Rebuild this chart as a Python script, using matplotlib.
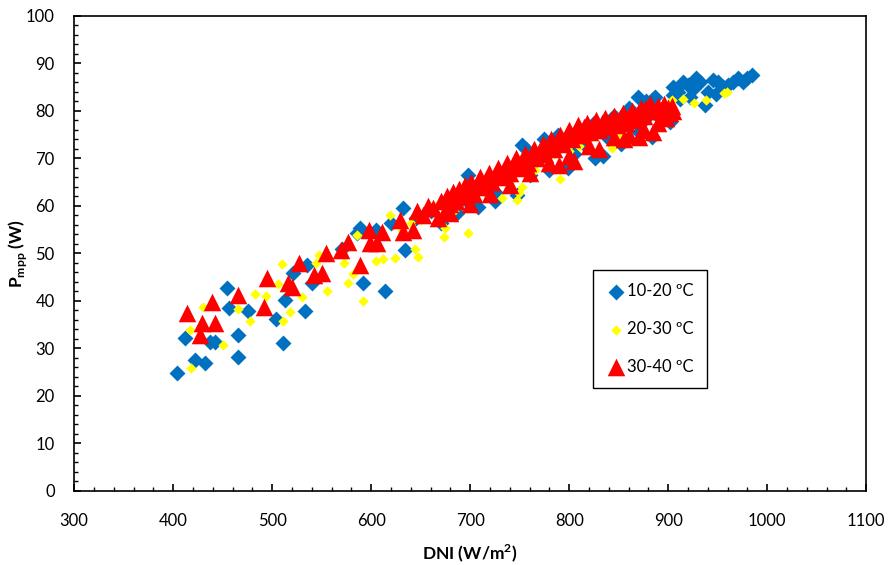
import numpy as np
import matplotlib
matplotlib.use("Agg")
import matplotlib.pyplot as plt
from matplotlib.ticker import MultipleLocator

plt.rcParams['font.family'] = ['Lato', 'DejaVu Sans']
plt.rcParams['mathtext.fontset'] = 'custom'
plt.rcParams['mathtext.rm'] = 'Lato'
plt.rcParams['mathtext.bf'] = 'Lato:bold'

# Data

dni_10_20 = [404, 412, 422, 432, 437, 442, 454, 456, 465, 465, 476, 504, 511, 513, 521, 533,
             535, 540, 570, 586, 589, 592, 605, 614, 620, 632, 634, 645, 660, 670, 678, 687,
             690, 698, 700, 708, 715, 720, 725, 725, 735, 745, 747, 752, 756, 760, 774, 780,
             789, 799, 800, 805, 810, 815, 825, 826, 834, 840, 845, 850, 852, 860, 860, 869,
             870, 875, 878, 884, 885, 887, 890, 895, 902, 905, 905, 910, 912, 915, 920, 922,
             925, 928, 932, 937, 940, 945, 948, 950, 955, 960, 965, 970, 975, 980, 985]
p_10_20 = [24.8, 32.2, 27.5, 27.0, 31.3, 31.3, 42.7, 38.5, 32.8, 28.2, 37.8, 36.2, 31.2, 40.2,
           45.9, 37.9, 47.6, 43.7, 51.0, 54.3, 55.4, 43.7, 55.0, 42.0, 56.5, 59.6, 50.8, 57.5,
           59.0, 56.4, 60.5, 58.5, 61.0, 66.5, 60.5, 59.8, 64.0, 62.5, 61.0, 63.0, 66.0, 68.0,
           62.3, 72.8, 72.0, 66.5, 74.0, 67.5, 75.0, 68.0, 68.5, 71.0, 76.0, 73.0, 77.5, 70.0,
           70.5, 74.0, 79.0, 76.0, 73.0, 77.0, 80.5, 83.0, 75.5, 78.0, 82.0, 74.5, 82.5, 83.0,
           79.0, 80.0, 77.7, 85.0, 83.4, 84.0, 82.5, 86.0, 85.5, 83.0, 84.5, 87.0, 86.0, 81.3,
           84.0, 86.5, 83.5, 86.0, 85.0, 85.5, 86.0, 87.0, 86.0, 87.0, 87.5]

dni_20_30 = [418, 417, 430, 450, 465, 478, 483, 494, 506, 510, 511, 518, 530, 544, 547, 555,
             572, 577, 582, 586, 592, 605, 612, 619, 624, 631, 640, 644, 647, 650, 665, 673,
             675, 684, 690, 698, 705, 715, 722, 732, 740, 747, 749, 752, 760, 765, 775, 785,
             791, 794, 800, 810, 820, 830, 843, 850, 860, 870, 880, 890, 895, 904, 915, 926,
             938, 956, 959]
p_20_30 = [25.9, 33.9, 38.7, 30.7, 38.3, 35.8, 41.4, 41.1, 43.6, 47.8, 35.8, 37.7, 40.8, 48.0,
           49.7, 42.1, 48.0, 43.8, 45.7, 53.9, 40.0, 48.4, 48.8, 58.0, 49.0, 55.0, 56.5, 50.9,
           49.3, 57.0, 60.0, 53.5, 55.4, 59.0, 61.5, 54.3, 62.0, 63.0, 64.5, 61.7, 65.0, 61.3,
           62.7, 64.0, 69.0, 67.5, 70.0, 71.0, 65.7, 74.5, 71.5, 72.5, 74.0, 76.0, 72.2, 75.0,
           78.0, 79.5, 80.5, 81.0, 79.0, 82.3, 82.5, 81.7, 82.3, 83.8, 84.0]

dni_30_40 = [414, 427, 429, 439, 442, 465, 492, 495, 516, 520, 527, 542, 550, 554, 569, 577,
             589, 598, 599, 606, 611, 629, 632, 642, 646, 652, 657, 662, 667, 670, 674, 677,
             680, 680, 683, 686, 689, 692, 695, 698, 700, 701, 704, 707, 710, 713, 716, 719,
             720, 722, 725, 728, 731, 734, 737, 740, 740, 743, 746, 749, 752, 755, 758, 760,
             761, 764, 767, 770, 773, 776, 779, 780, 782, 785, 788, 790, 791, 794, 797, 800,
             800, 803, 805, 806, 809, 812, 815, 818, 820, 821, 824, 827, 830, 830, 833, 836,
             839, 842, 845, 845, 848, 851, 854, 855, 857, 860, 860, 863, 866, 869, 870, 872,
             875, 875, 878, 882, 885, 886, 890, 890, 893, 896, 898, 900, 902, 904, 905]
p_30_40 = [37.5, 32.8, 35.4, 39.8, 35.4, 41.3, 38.7, 44.8, 43.8, 43.0, 48.0, 45.5, 45.9, 50.0,
           50.7, 52.4, 47.6, 55.0, 52.2, 52.2, 54.5, 57.0, 54.5, 55.0, 59.0, 58.0, 60.0, 59.6,
           57.5, 61.0, 59.0, 62.0, 60.5, 58.5, 63.0, 61.0, 63.5, 62.0, 64.5, 63.0, 60.5, 65.0,
           62.5, 64.5, 66.0, 64.0, 65.5, 67.0, 62.5, 65.0, 66.5, 68.0, 66.0, 67.5, 69.0, 67.0,
           64.5, 68.5, 70.0, 68.0, 69.5, 71.0, 69.0, 67.0, 70.5, 72.0, 70.0, 71.5, 73.0, 71.0,
           72.5, 69.0, 74.0, 72.0, 73.5, 68.5, 75.0, 73.0, 74.5, 76.0, 70.5, 74.0, 69.5, 75.5,
           77.0, 75.0, 76.5, 77.5, 72.5, 75.5, 77.0, 78.0, 76.0, 72.0, 77.5, 78.5, 76.5, 78.0,
           79.0, 74.5, 77.0, 78.5, 79.5, 74.0, 77.5, 79.0, 75.0, 80.0, 78.0, 79.5, 74.5, 80.5,
           79.0, 76.0, 80.5, 81.5, 75.5, 80.0, 81.0, 77.5, 80.0, 81.5, 78.5, 80.5, 79.5, 81.0,
           80.0]

labels = ['10-20 ºC', '20-30 ºC', '30-40 ºC']

# Plot

fig = plt.figure(figsize=(8.94, 5.65), dpi=100)
ax = fig.add_axes([0.083, 0.131, 0.886, 0.841])

ax.scatter(dni_10_20, p_10_20, marker='D', s=66, color='#0070C0', linewidths=0, label=labels[0])
ax.scatter(dni_20_30, p_20_30, marker='D', s=28, color='#FFFF00', linewidths=0, label=labels[1])
ax.scatter(dni_30_40, p_30_40, marker='^', s=160, color='#FF0000', linewidths=0, label=labels[2])

ax.set_xlim(300, 1100)
ax.set_ylim(0, 100)
ax.xaxis.set_major_locator(MultipleLocator(100))
ax.xaxis.set_minor_locator(MultipleLocator(20))
ax.yaxis.set_major_locator(MultipleLocator(10))
ax.yaxis.set_minor_locator(MultipleLocator(2))
ax.tick_params(which='major', direction='in', length=5, width=1.2, labelsize=12)
ax.tick_params(axis='x', which='major', pad=16)
ax.tick_params(axis='y', which='major', pad=14)
ax.tick_params(which='minor', direction='in', length=3, width=1)
for s in ax.spines.values():
    s.set_linewidth(1.2)

ax.set_xlabel(r'DNI (W/m$^\mathbf{2}$)', fontsize=12.5, fontweight='bold', labelpad=9)
ax.set_ylabel(r'P$_\mathbf{mpp}$ (W)', fontsize=12.5, fontweight='bold', labelpad=-2)

leg = ax.legend(loc='upper left', bbox_to_anchor=(0.655, 0.465), fontsize=12,
                frameon=True, fancybox=False, edgecolor='black', framealpha=1,
                labelspacing=1.3, handletextpad=0.15, handlelength=1.1,
                borderpad=0.8, borderaxespad=0, scatterpoints=1)
leg.get_frame().set_linewidth(1.0)

plt.savefig('out.png', dpi=100)
